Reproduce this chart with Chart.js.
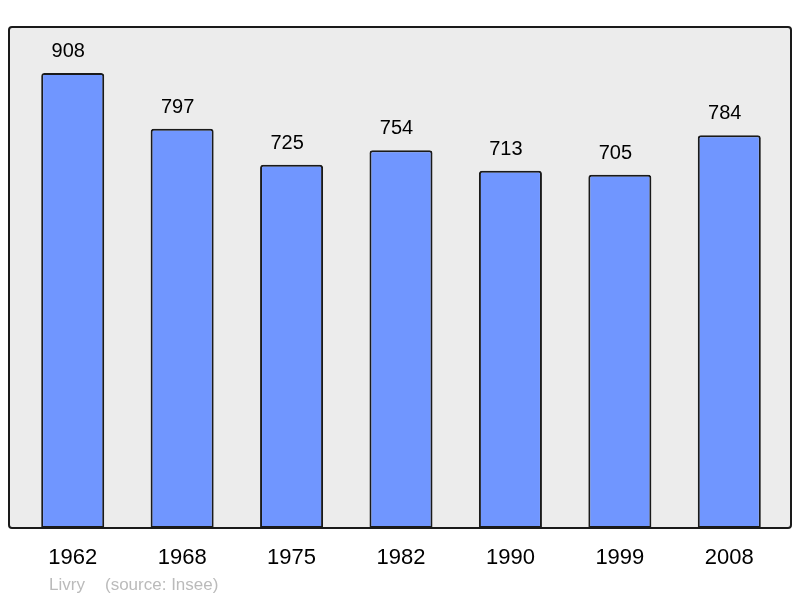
<!DOCTYPE html>
<html>
<head>
<meta charset="utf-8">
<script src="https://cdn.jsdelivr.net/npm/chart.js@4/dist/chart.umd.min.js"></script>
<style>
html,body{margin:0;padding:0;background:#fff;}
canvas{display:block;}
</style>
</head>
<body>
<canvas id="c" width="800" height="598"></canvas>
<script>
const years = ["1962","1968","1975","1982","1990","1999","2008"];
const population = [908,797,725,754,713,705,784];
const townName = "Livry";
const sourceText = "(source: Insee)";

const FONT = "'Liberation Sans', Arial, sans-serif";

const framePlugin = {
  id: 'frame',
  beforeDraw(chart) {
    const ctx = chart.ctx;
    const a = chart.chartArea;
    ctx.save();
    ctx.fillStyle = '#ececec';
    ctx.beginPath();
    ctx.roundRect(9, a.top, 782, a.bottom - a.top, 3);
    ctx.fill();
    ctx.restore();
  },
  afterDatasetsDraw(chart) {
    const ctx = chart.ctx;
    const a = chart.chartArea;
    const meta = chart.getDatasetMeta(0);
    ctx.save();
    ctx.fillStyle = '#000';
    ctx.font = '20px ' + FONT;
    ctx.textAlign = 'center';
    ctx.textBaseline = 'alphabetic';
    meta.data.forEach((bar, i) => {
      ctx.fillText(String(population[i]), bar.x - 4.5, bar.y - 16);
    });
    ctx.strokeStyle = '#1a1a1a';
    ctx.lineWidth = 2;
    ctx.beginPath();
    ctx.roundRect(9, a.top, 782, a.bottom - a.top, 3);
    ctx.stroke();
    ctx.fillStyle = '#bbbbbb';
    ctx.font = '17px ' + FONT;
    ctx.textAlign = 'left';
    ctx.fillText(townName, 49, 590);
    ctx.fillText(sourceText, 105, 590);
    ctx.restore();
  }
};

new Chart(document.getElementById('c'), {
  type: 'bar',
  data: {
    labels: years,
    datasets: [{
      data: population,
      backgroundColor: '#7096ff',
      borderColor: '#1a1a1a',
      borderWidth: 2,
      borderRadius: { topLeft: 3, topRight: 3, bottomLeft: 0, bottomRight: 0 },
      borderSkipped: false,
      categoryPercentage: 1,
      barPercentage: 0.576
    }]
  },
  options: {
    responsive: false,
    animation: false,
    devicePixelRatio: 1,
    layout: { padding: { left: 18, right: 16, top: 27, bottom: 0 } },
    plugins: { legend: { display: false }, tooltip: { enabled: false }, title: { display: false } },
    scales: {
      y: { display: false, min: 0, max: 1000 },
      x: {
        grid: { display: false, drawTicks: false },
        border: { display: false },
        ticks: { color: '#000', font: { family: FONT, size: 22 }, padding: 17 },
        afterFit(scale) { scale.height = 70; }
      }
    }
  },
  plugins: [framePlugin]
});
</script>
</body>
</html>
